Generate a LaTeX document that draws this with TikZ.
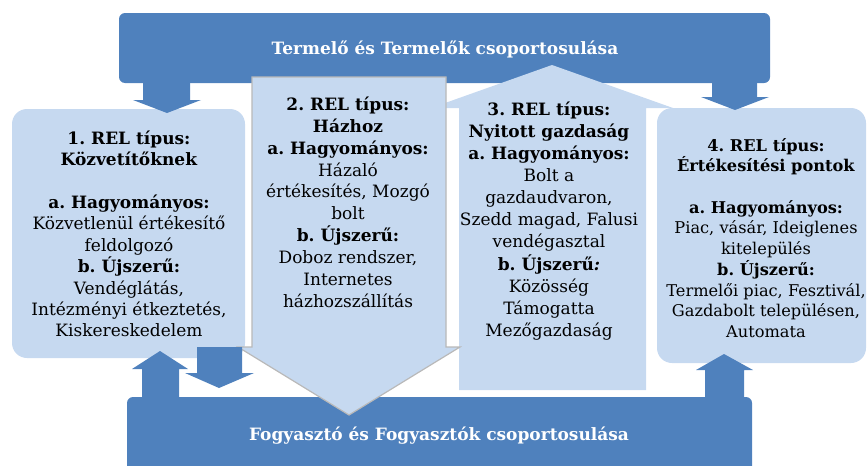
\documentclass[tikz,border=0pt]{standalone}
\usepackage{fontspec}
\setmainfont{DejaVu Serif}
\definecolor{dkblue}{RGB}{79,129,189}
\definecolor{ltblue}{RGB}{198,217,240}
\tikzset{
  darkshape/.style={fill=dkblue, draw=none},
  lightshape/.style={fill=ltblue, draw=none},
  boxtext/.style={align=center, inner sep=0pt, anchor=north, font=\fontsize{17}{#1}\selectfont},
  bartext/.style={text=white, inner sep=0pt, font=\bfseries\fontsize{17}{20}\selectfont}
}
\frenchspacing
\begin{document}
\frenchspacing
\begin{tikzpicture}[x=1pt,y=-1pt]
\useasboundingbox (0,0) rectangle (868,466);
% bars
\node[darkshape, rounded corners=6pt, minimum width=651pt, minimum height=70pt, inner sep=0pt] (topbar) at (444.5,48) {};
\node[darkshape, rounded corners=6pt, minimum width=625pt, minimum height=80pt, inner sep=0pt] (botbar) at (439.5,437) {};
% box 1 and box 4
\node[lightshape, rounded corners=15pt, minimum width=233pt, minimum height=249pt, inner sep=0pt] (box1) at (128.5,233.5) {};
\node[lightshape, rounded corners=15pt, minimum width=209pt, minimum height=255pt, inner sep=0pt] (box4) at (761.5,235.5) {};
% box 3 (up arrow)
\path[lightshape] (459,390) -- (459,108) -- (431,108) -- (552,65) -- (673,108) -- (646,108) -- (646,390) -- cycle;
\coordinate (box3) at (552,108);
% box 2 (down arrow)
\path[lightshape, draw=gray!55, line width=1.2pt] (252,77) -- (446,77) -- (446,347) -- (460,347) -- (349,415) -- (238,347) -- (252,347) -- cycle;
\coordinate (box2) at (349,77);
% small arrows
\path[darkshape] (143,80) -- (190,80) -- (190,100) -- (201,100) -- (167,113) -- (133,100) -- (143,100) -- cycle;
\path[darkshape] (712,80) -- (757,80) -- (757,97) -- (769,97) -- (735,110) -- (701,97) -- (712,97) -- cycle;
\path[darkshape] (142,400) -- (142,369) -- (132,369) -- (160,351) -- (188,369) -- (179,369) -- (179,400) -- cycle;
\path[darkshape] (197,347) -- (242,347) -- (242,373) -- (254,373) -- (219,388) -- (185,373) -- (197,373) -- cycle;
\path[darkshape] (705,400) -- (705,370) -- (696,370) -- (724,354) -- (753,370) -- (744,370) -- (744,400) -- cycle;
% bar texts
\node[bartext] (toptext) at (445,49) {Termelő és Termelők csoportosulása};
\node[bartext] (bottext) at (439,436) {Fogyasztó és Fogyasztók csoportosulása};
% box texts
\node[boxtext=21.4] (t1) at (129,130.5) {\textbf{1. REL típus:}\\ \textbf{Közvetítőknek}\\[21.4pt]
\textbf{a. Hagyományos:}\\ Közvetlenül értékesítő\\ feldolgozó\\ \textbf{b. Újszerű:}\\ Vendéglátás,\\ Intézményi étkeztetés,\\ Kiskereskedelem};
\node[boxtext=21.9] (t2) at (348,96.5) {\textbf{2. REL típus:}\\ \textbf{Házhoz}\\ \textbf{a. Hagyományos:}\\ Házaló\\ értékesítés, Mozgó\\ bolt\\ \textbf{b. Újszerű:}\\ Doboz rendszer,\\ Internetes\\ házhozszállítás};
\node[boxtext=22.1] (t3) at (549,101.5) {\textbf{3. REL típus:}\\ \textbf{Nyitott gazdaság}\\ \textbf{a. Hagyományos:}\\ Bolt a\\ gazdaudvaron,\\ Szedd magad, Falusi\\ vendégasztal\\ \textbf{b. Újszerű\textit{:}}\\ Közösség\\ Támogatta\\ Mezőgazdaság};
\node[boxtext=20.7, font=\fontsize{16.2}{20.7}\selectfont] (t4) at (766,138) {\textbf{4. REL típus:}\\ \textbf{Értékesítési pontok}\\[20.7pt]
\textbf{a. Hagyományos:}\\ Piac, vásár, Ideiglenes\\ kitelepülés\\ \textbf{b. Újszerű:}\\ Termelői piac, Fesztivál,\\ Gazdabolt településen,\\ Automata};
\end{tikzpicture}
\end{document}
